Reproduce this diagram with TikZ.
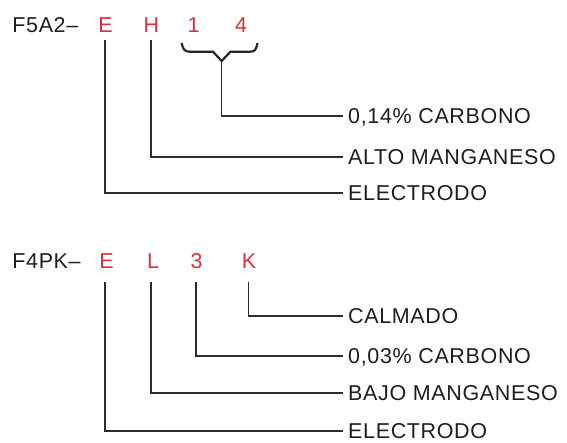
\documentclass[tikz,border=0pt]{standalone}
\usepackage{fontspec}
\setmainfont{Liberation Sans}[LetterSpace=3]
\definecolor{codered}{RGB}{210,50,62}
\definecolor{ink}{RGB}{30,30,30}
\definecolor{wire}{RGB}{45,45,45}
\begin{document}
\begin{tikzpicture}[x=1pt,y=-1pt,
  txt/.style={inner sep=0pt,text=ink,font=\fontsize{21.5}{22}\selectfont,text height=15pt,text depth=0pt},
  letter/.style={txt,text=codered,anchor=base},
  code/.style={txt,anchor=base west},
  lab/.style={txt,anchor=west,inner xsep=5pt,inner ysep=0pt},
  wireline/.style={draw=wire,line width=1.4pt},
  bracestyle/.style={draw=black!85,line width=2.2pt,line join=miter}]
\useasboundingbox (0,0) rectangle (567,443);
% ---------- top group ----------
\node[code] (c1) at (12.2,33) {F5A2–};
\node[letter] (e1) at (105.5,33) {E};
\node[letter] (h1) at (151.5,33) {H};
\node[letter] (d1) at (193.5,33) {1};
\node[letter] (d4) at (241,33) {4};
\node[lab] (carb1) at (343,116) {0,14\% CARBONO};
\node[lab] (mn1) at (343,157) {ALTO MANGANESO};
\node[lab] (el1) at (343,193) {ELECTRODO};
\coordinate (bt) at (221.7,61);
\draw[bracestyle] (181.7,43) .. controls (183,50) and (185,51.7) .. (190,51.7)
  -- (213,51.7) -- (bt) -- (230.4,51.7) -- (250,51.7)
  .. controls (255,51.7) and (256,50) .. (257.5,43);
\draw[wireline] (bt) |- (carb1.west);
\draw[wireline] ([xshift=-0.5pt,yshift=-7.5pt]h1.base) |- (mn1.west);
\draw[wireline] ([xshift=-0.5pt,yshift=-7.5pt]e1.base) |- (el1.west);
% ---------- bottom group ----------
\node[code] (c2) at (12.2,269) {F4PK–};
\node[letter] (e2) at (106.5,269) {E};
\node[letter] (l2) at (153,269) {L};
\node[letter] (n3) at (196.5,269) {3};
\node[letter] (k2) at (249,269) {K};
\node[lab] (cal) at (343,316) {CALMADO};
\node[lab] (carb2) at (343,356) {0,03\% CARBONO};
\node[lab] (mn2) at (343,393) {BAJO MANGANESO};
\node[lab] (el2) at (343,431) {ELECTRODO};
\draw[wireline] ([xshift=-0.7pt,yshift=-13pt]k2.base) |- (cal.west);
\draw[wireline] ([xshift=-0.5pt,yshift=-13pt]n3.base) |- (carb2.west);
\draw[wireline] ([xshift=-2pt,yshift=-13pt]l2.base) |- (mn2.west);
\draw[wireline] ([xshift=-1.5pt,yshift=-13pt]e2.base) |- (el2.west);
\end{tikzpicture}
\end{document}
